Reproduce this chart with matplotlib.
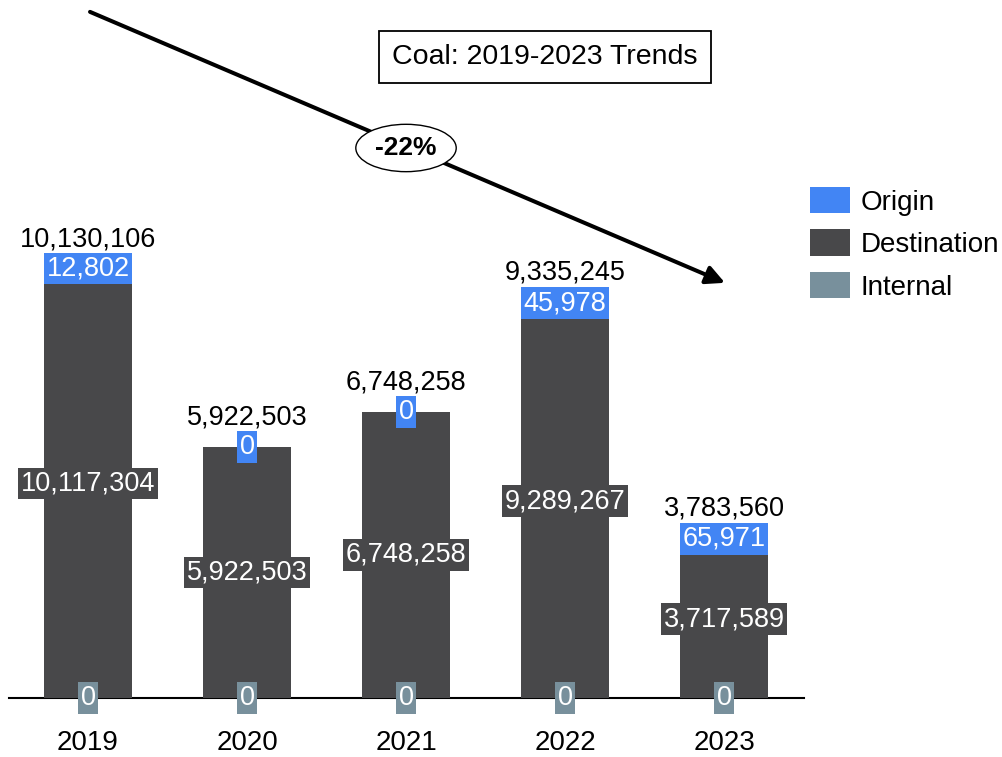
import matplotlib.pyplot as plt
import numpy as np

plt.rcParams['font.family'] = ['Liberation Sans', 'DejaVu Sans']

years = ['2019', '2020', '2021', '2022', '2023']
internal = [0, 0, 0, 0, 0]
destination = [10117304, 5922503, 6748258, 9289267, 3717589]
origin = [12802, 0, 0, 45978, 65971]

c_origin = '#4285F4'
c_dest = '#48484A'
c_int = '#78909C'

internal = np.array(internal)
destination = np.array(destination)
origin = np.array(origin)
totals = internal + destination + origin
x = np.arange(len(years))

fig = plt.figure(figsize=(10.03, 7.57), dpi=100)
ax = fig.add_axes([0.0085, 0.078, 0.7926, 0.922])

w = 0.555
ax.bar(x, internal, w, color=c_int, label='Internal')
ax.bar(x, destination, w, bottom=internal, color=c_dest, label='Destination')
ax.bar(x, origin, w, bottom=internal + destination, color=c_origin, label='Origin')

fs = 19.5
def boxed(xi, yi, val, col):
    ax.text(xi, yi, f'{val:,}', ha='center', va='center', fontsize=fs, color='white',
            bbox=dict(boxstyle='square,pad=0.1', fc=col, ec='none'))

for i in range(len(years)):
    boxed(x[i], internal[i] / 2, internal[i], c_int)
    boxed(x[i], internal[i] + destination[i] / 2, destination[i], c_dest)
    boxed(x[i], internal[i] + destination[i] + origin[i] / 2, origin[i], c_origin)
    ax.annotate(f'{totals[i]:,}', (x[i], totals[i]), xytext=(0, 21), textcoords='offset points',
                ha='center', va='center', fontsize=fs)

# trend arrow
ax.annotate('', xy=(4.006, 9.79e6), xytext=(0.0126, 16.18e6),
            arrowprops=dict(arrowstyle='-|>', lw=2.9, color='black', mutation_scale=28,
                            shrinkA=0, shrinkB=0))
ax.text(2.0, 12.97e6, '-22%', ha='center', va='center', fontsize=19, fontweight='bold',
        bbox=dict(boxstyle='ellipse,pad=0.18', fc='white', ec='black', lw=1.0))

ax.text(2.874, 15.12e6, 'Coal: 2019-2023 Trends', ha='center', va='center', fontsize=20.5,
        bbox=dict(boxstyle='square,pad=0.45', fc='white', ec='black', lw=1.3))

ax.set_xlim(-0.5, 4.5)
ax.set_ylim(0, 16.46e6)
ax.set_xticks(x)
ax.set_xticklabels(years, fontsize=20)
ax.tick_params(axis='x', length=0, pad=23)
ax.set_yticks([])
for s in ['top', 'right', 'left']:
    ax.spines[s].set_visible(False)
ax.spines['bottom'].set_linewidth(1.5)
ax.spines['bottom'].set_zorder(0.5)

h, l = ax.get_legend_handles_labels()
fig.legend(h[::-1], l[::-1], loc='upper left', bbox_to_anchor=(0.808, 0.753), frameon=False,
           fontsize=20, handlelength=1.44, handleheight=1.08, handletextpad=0.36,
           labelspacing=0.5, borderpad=0, borderaxespad=0)

fig.savefig('out.png', dpi=100)
